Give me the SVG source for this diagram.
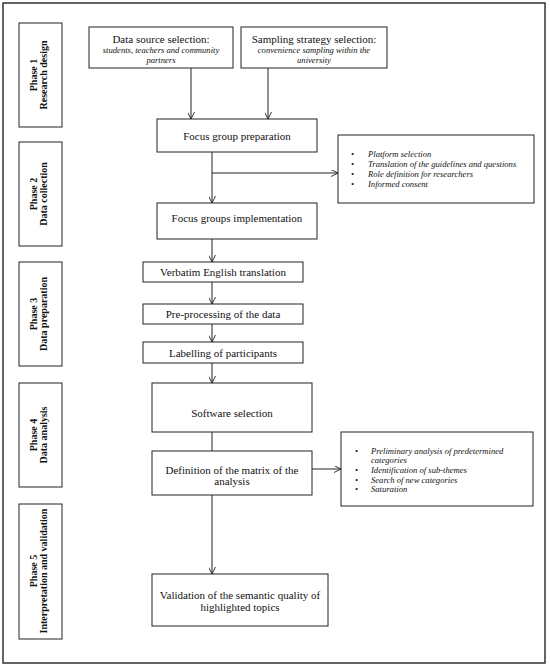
<svg xmlns="http://www.w3.org/2000/svg" width="550" height="668" viewBox="0 0 550 668" font-family="Liberation Serif, DejaVu Serif, serif">
<defs>
<marker id="arr" viewBox="0 0 10 10" refX="10" refY="5" markerWidth="7" markerHeight="7" orient="auto" markerUnits="userSpaceOnUse">
<path d="M0,0 L10,5 L0,10" fill="none" stroke="#222" stroke-width="1.3"/>
</marker>
<style>
text{font-family:'Liberation Serif','DejaVu Serif',serif}
.box{fill:#fff;stroke:#222;stroke-width:1}
.t{font-size:11px;fill:#111;text-anchor:middle}
.i{font-size:8.6px;font-style:italic;fill:#111}
.ic{text-anchor:middle}
.p{font-size:10px;font-weight:bold;fill:#111;text-anchor:middle}
.c{stroke:#222;stroke-width:1;fill:none}
</style>
</defs>
<rect x="3" y="3" width="542" height="660" fill="#fff" stroke="#333" stroke-width="1.5"/>

<g id="phase1"><rect class="box" x="19" y="23" width="43" height="104"/>
<text class="p" transform="translate(37,75) rotate(-90)">Phase 1</text>
<text class="p" transform="translate(47,75) rotate(-90)">Research design</text></g>
<g id="phase2"><rect class="box" x="19" y="142" width="43" height="104"/>
<text class="p" transform="translate(37,194) rotate(-90)">Phase 2</text>
<text class="p" transform="translate(47,194) rotate(-90)">Data collection</text></g>
<g id="phase3"><rect class="box" x="19" y="262" width="43" height="104"/>
<text class="p" transform="translate(37,314) rotate(-90)">Phase 3</text>
<text class="p" transform="translate(47,314) rotate(-90)">Data  preparation</text></g>
<g id="phase4"><rect class="box" x="19" y="383" width="43" height="104"/>
<text class="p" transform="translate(37,435) rotate(-90)">Phase 4</text>
<text class="p" transform="translate(47,435) rotate(-90)">Data analysis</text></g>
<g id="phase5"><rect class="box" x="19" y="504" width="43" height="135"/>
<text class="p" transform="translate(37,571) rotate(-90)">Phase 5</text>
<text class="p" transform="translate(47,571) rotate(-90)">Interpretation and validation</text></g>

<g id="connectors">
<line class="c" x1="191" y1="68" x2="191" y2="119" marker-end="url(#arr)"/>
<line class="c" x1="268" y1="68" x2="268" y2="119" marker-end="url(#arr)"/>
<line class="c" x1="212" y1="152" x2="212" y2="203" marker-end="url(#arr)"/>
<line class="c" x1="212" y1="173" x2="338" y2="173" marker-end="url(#arr)"/>
<line class="c" x1="212" y1="239" x2="212" y2="262" marker-end="url(#arr)"/>
<line class="c" x1="212" y1="282" x2="212" y2="304" marker-end="url(#arr)"/>
<line class="c" x1="212" y1="324" x2="212" y2="342" marker-end="url(#arr)"/>
<line class="c" x1="212" y1="363" x2="212" y2="383" marker-end="url(#arr)"/>
<line class="c" x1="212" y1="432" x2="212" y2="451"/>
<line class="c" x1="312" y1="469" x2="341" y2="469" marker-end="url(#arr)"/>
<line class="c" x1="212" y1="495" x2="212" y2="574" marker-end="url(#arr)"/>
</g>

<g id="datasource"><rect class="box" x="89" y="27" width="144" height="41"/>
<text class="t" x="161" y="43">Data source selection:</text>
<text class="i ic" x="161" y="52.5">students,  teachers and  community</text>
<text class="i ic" x="161" y="63">partners</text></g>
<g id="sampling"><rect class="box" x="241" y="27" width="146" height="41"/>
<text class="t" x="314" y="43">Sampling strategy selection:</text>
<text class="i ic" x="314" y="52.5">convenience  sampling  within  the</text>
<text class="i ic" x="314" y="63">university</text></g>
<g id="fgprep"><rect class="box" x="157" y="119" width="160" height="33"/>
<text class="t" x="237" y="140">Focus group preparation</text></g>
<g id="list1"><rect class="box" x="338" y="135" width="196" height="68"/>
<text class="i" x="351" y="157">•</text><text class="i" x="368" y="157">Platform  selection</text>
<text class="i" x="351" y="167">•</text><text class="i" x="368" y="167">Translation  of  the guidelines  and questions</text>
<text class="i" x="351" y="177">•</text><text class="i" x="368" y="177">Role definition  for researchers</text>
<text class="i" x="351" y="187">•</text><text class="i" x="368" y="187">Informed  consent</text></g>
<g id="fgimpl"><rect class="box" x="157" y="203" width="160" height="36"/>
<text class="t" x="237" y="222">Focus groups implementation</text></g>
<g id="verbatim"><rect class="box" x="143" y="262" width="160" height="20"/>
<text class="t" x="223" y="276">Verbatim English translation</text></g>
<g id="preproc"><rect class="box" x="143" y="304" width="160" height="20"/>
<text class="t" x="223" y="318">Pre-processing of the data</text></g>
<g id="labelling"><rect class="box" x="143" y="342" width="160" height="21"/>
<text class="t" x="223" y="356.5">Labelling of participants</text></g>
<g id="software"><rect class="box" x="152" y="383" width="160" height="49"/>
<text class="t" x="232" y="417">Software selection</text></g>
<g id="matrix"><rect class="box" x="152" y="451" width="160" height="44"/>
<text class="t" x="232" y="474">Definition of the matrix of the</text>
<text class="t" x="232" y="485">analysis</text></g>
<g id="list2"><rect class="box" x="341" y="432" width="192" height="74"/>
<text class="i" x="355" y="454">•</text><text class="i" x="371" y="454">Preliminary analysis of predetermined</text>
<text class="i" x="371" y="463">categories</text>
<text class="i" x="355" y="473">•</text><text class="i" x="371" y="473">Identification of sub-themes</text>
<text class="i" x="355" y="483">•</text><text class="i" x="371" y="483">Search of new categories</text>
<text class="i" x="355" y="492">•</text><text class="i" x="371" y="492">Saturation</text></g>
<g id="validation"><rect class="box" x="152" y="574" width="176" height="52"/>
<text class="t" x="240" y="599">Validation of the semantic quality of</text>
<text class="t" x="240" y="611">highlighted topics</text></g>
</svg>
